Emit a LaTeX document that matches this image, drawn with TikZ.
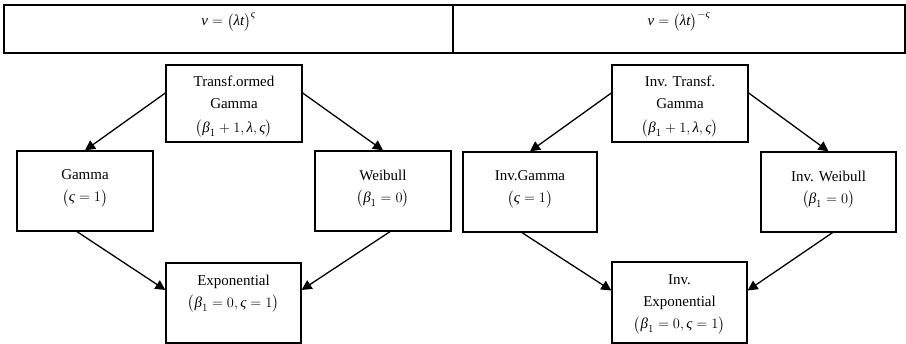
\documentclass[tikz,border=0pt]{standalone}
\usepackage{amsmath}
\usepackage{fontspec}
\setmainfont{Liberation Serif}
\usetikzlibrary{arrows.meta}
\newcommand\gi[1]{\textit{#1}}
\newcommand\bx[4]{\parbox[c][#2][t]{#1}{\centering\vspace*{#3}#4}}
\begin{document}
\begin{tikzpicture}[x=1pt,y=-1pt,
  cell/.style={draw, line width=1.2pt, inner sep=0pt},
  box/.style={draw, line width=1.3pt, inner sep=0pt, font=\fontsize{15}{22}\selectfont},
  formula/.style={inner sep=0pt, anchor=base, font=\fontsize{15}{21}\selectfont},
  arr/.style={line width=1.3pt, -{Triangle[length=10pt,width=10pt]}}]
\useasboundingbox (0,0) rectangle (906,344);
% table
\node[cell, minimum width=449pt, minimum height=48pt] (c1) at (228.5,29) {};
\node[cell, minimum width=452pt, minimum height=48pt] (c2) at (679,29) {};
\node[formula] (f1) at (228.5,26) {$\gi{ν} = \bigl(\gi{λt}\bigr)^{\gi{ς}}$};
\node[formula] (f2) at (679,26) {$\gi{ν} = \bigl(\gi{λt}\bigr)^{-\gi{ς}}$};
% left diagram
\node[box] (T) at (234,103.5) {\bx{136pt}{77pt}{11pt}{Transf.ormed\\ Gamma\\[2pt] $\bigl(\gi{β}_1 + 1, \gi{λ}, \gi{ς}\bigr)$}};
\node[box] (G) at (85,191) {\bx{136pt}{80pt}{19pt}{Gamma\\ $\bigl(\gi{ς} = 1\bigr)$}};
\node[box] (W) at (383,191) {\bx{136pt}{80pt}{19pt}{Weibull\\ $\bigl(\gi{β}_1 = 0\bigr)$}};
\node[box] (E) at (233.5,303) {\bx{135pt}{80pt}{12pt}{Exponential\\ $\bigl(\gi{β}_1 = 0, \gi{ς} = 1\bigr)$}};
% right diagram
\node[box] (IT) at (680,103.5) {\bx{136pt}{77pt}{11pt}{Inv. Transf.\\ Gamma\\[2pt] $\bigl(\gi{β}_1 + 1, \gi{λ}, \gi{ς}\bigr)$}};
\node[box] (IG) at (530,192) {\bx{134pt}{80pt}{19pt}{Inv.Gamma\\ $\bigl(\gi{ς} = 1\bigr)$}};
\node[box] (IW) at (828.5,192) {\bx{135pt}{80pt}{19pt}{Inv. Weibull\\ $\bigl(\gi{β}_1 = 0\bigr)$}};
\node[box] (IE) at (679.5,302.5) {\bx{135pt}{81pt}{13pt}{Inv.\\ Exponential\\ $\bigl(\gi{β}_1 = 0, \gi{ς} = 1\bigr)$}};
% connectors
\draw[arr] ([yshift=10.5pt]T.west) -- (G.north);
\draw[arr] ([yshift=10.5pt]T.east) -- (W.north);
\draw[arr] ([xshift=-8pt]G.south) -- ([yshift=13pt]E.west);
\draw[arr] ([xshift=7pt]W.south) -- ([yshift=13pt]E.east);
\draw[arr] ([yshift=10.5pt]IT.west) -- (IG.north);
\draw[arr] ([yshift=10.5pt]IT.east) -- (IW.north);
\draw[arr] ([xshift=-8pt]IG.south) -- ([yshift=12pt]IE.west);
\draw[arr] ([xshift=4pt]IW.south) -- ([yshift=12pt]IE.east);
\end{tikzpicture}
\end{document}
